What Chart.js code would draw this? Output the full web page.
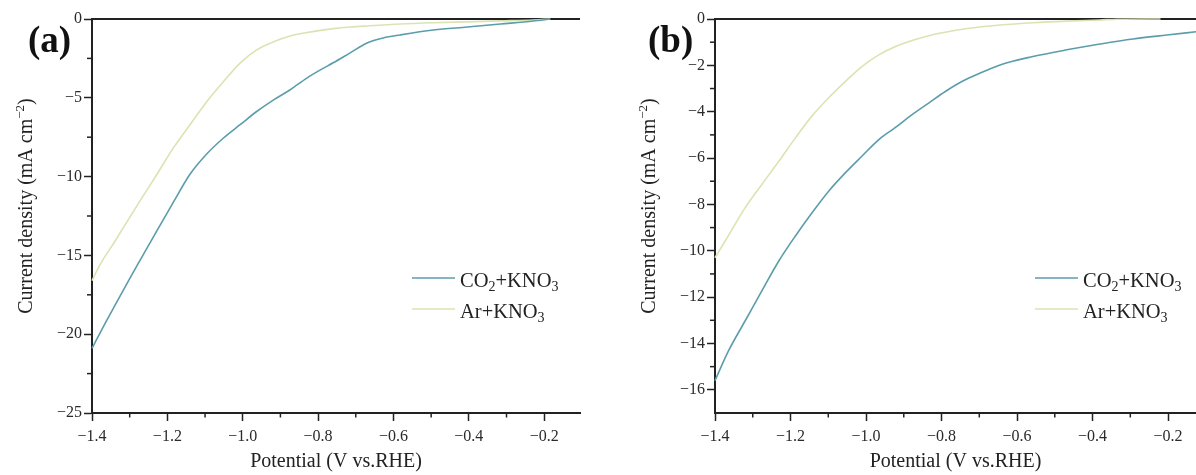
<!DOCTYPE html>
<html>
<head>
<meta charset="utf-8">
<script src="https://cdn.jsdelivr.net/npm/chart.js@4.4.1/dist/chart.umd.min.js"></script>
<style>
  html, body { margin: 0; padding: 0; background: #fff; }
  #wrap { position: relative; width: 1196px; height: 475px; overflow: hidden; background: #fff; }
  canvas { position: absolute; top: 0; }
  #chartA { left: 0; }
  #chartB { left: 600px; }
</style>
</head>
<body>
<div id="wrap">
  <canvas id="chartA" width="600" height="475"></canvas>
  <canvas id="chartB" width="596" height="475"></canvas>
</div>
<script>
// ---- series names and colours ----
const seriesLabels = ['CO2+KNO3', 'Ar+KNO3'];
const seriesColors = ['#5b9dab', '#dae4b3'];

// ---- panel (a): potential (V vs. RHE) and current density (mA cm-2) ----
const potA_CO2 = [-1.400, -1.367, -1.334, -1.304, -1.281, -1.259, -1.228, -1.184, -1.140, -1.095, -1.051, -1.007, -0.963, -0.918, -0.874, -0.830, -0.794, -0.760, -0.715, -0.670, -0.627, -0.582, -0.494, -0.404, -0.316, -0.229, -0.184];
const curA_CO2 = [-20.9, -19.4, -17.95, -16.65, -15.67, -14.75, -13.45, -11.62, -9.85, -8.55, -7.55, -6.71, -5.87, -5.13, -4.49, -3.75, -3.23, -2.78, -2.15, -1.52, -1.20, -1.01, -0.70, -0.51, -0.32, -0.13, 0.0];
const potA_Ar = [-1.400, -1.379, -1.339, -1.317, -1.273, -1.228, -1.184, -1.140, -1.095, -1.051, -1.007, -0.963, -0.918, -0.874, -0.830, -0.794, -0.760, -0.715, -0.670, -0.582, -0.494, -0.404, -0.316, -0.229, -0.184];
const curA_Ar = [-16.6, -15.6, -14.1, -13.25, -11.56, -9.87, -8.18, -6.71, -5.23, -3.97, -2.80, -1.96, -1.44, -1.08, -0.86, -0.72, -0.61, -0.51, -0.44, -0.32, -0.24, -0.18, -0.12, -0.06, 0.0];

// ---- panel (b) ----
const potB_CO2 = [-1.400, -1.364, -1.320, -1.276, -1.231, -1.187, -1.143, -1.099, -1.055, -1.011, -0.966, -0.922, -0.878, -0.834, -0.790, -0.746, -0.700, -0.645, -0.558, -0.468, -0.380, -0.293, -0.203, -0.126];
const curB_CO2 = [-15.6, -14.31, -13.02, -11.73, -10.44, -9.36, -8.36, -7.43, -6.64, -5.92, -5.20, -4.68, -4.13, -3.63, -3.13, -2.70, -2.35, -1.98, -1.62, -1.33, -1.08, -0.86, -0.69, -0.55];
const potB_Ar = [-1.400, -1.373, -1.320, -1.276, -1.231, -1.187, -1.143, -1.099, -1.055, -1.011, -0.966, -0.922, -0.878, -0.834, -0.790, -0.732, -0.645, -0.558, -0.468, -0.380, -0.335, -0.220];
const curB_Ar = [-10.3, -9.58, -8.14, -7.14, -6.14, -5.13, -4.18, -3.40, -2.70, -2.05, -1.55, -1.19, -0.93, -0.72, -0.57, -0.41, -0.26, -0.16, -0.09, -0.04, -0.01, 0.0];

// ---- axis ticks ----
const xTicks = [-1.4, -1.2, -1.0, -0.8, -0.6, -0.4, -0.2];
const xMinorTicks = [-1.3, -1.1, -0.9, -0.7, -0.5, -0.3];
const yTicksA = [0, -5, -10, -15, -20, -25];
const yMinorA = [-2.5, -7.5, -12.5, -17.5, -22.5];
const yTicksB = [0, -2, -4, -6, -8, -10, -12, -14, -16];
const yMinorB = [-1, -3, -5, -7, -9, -11, -13, -15];

const FONT = "'Liberation Serif', 'Times New Roman', serif";
const AXIS = '#222';
const MINUS = '\u2212';

function toPoints(xs, ys) { return xs.map((x, i) => ({ x: x, y: ys[i] })); }
function fmtX(v) { return (v < 0 ? MINUS : '') + Math.abs(v).toFixed(1); }
function fmtY(v) { return (v < 0 ? MINUS : '') + Math.abs(v); }

// split a chemical label into normal / subscript runs (digits after letters)
function chemParts(label) {
  const parts = [];
  for (const ch of label) {
    const mode = /[0-9]/.test(ch) ? 'sub' : 'n';
    const last = parts[parts.length - 1];
    if (last && last.mode === mode) last.t += ch; else parts.push({ t: ch, mode: mode });
  }
  return parts;
}

function drawRich(ctx, parts, x, y, size, align) {
  const small = Math.round(size * 0.66);
  const fontFor = m => (m === 'n' ? size : small) + 'px ' + FONT;
  let total = 0;
  parts.forEach(p => { ctx.font = fontFor(p.mode); total += ctx.measureText(p.t).width; });
  let cx = align === 'center' ? x - total / 2 : x;
  ctx.textAlign = 'left';
  ctx.textBaseline = 'alphabetic';
  parts.forEach(p => {
    ctx.font = fontFor(p.mode);
    let dy = 0;
    if (p.mode === 'sub') dy = size * 0.22;
    if (p.mode === 'sup') dy = -size * 0.4;
    ctx.fillText(p.t, cx, y + dy);
    cx += ctx.measureText(p.t).width;
  });
}

// panel label, rotated y title, top frame line, minor ticks and legend
const panelDecor = {
  id: 'panelDecor',
  beforeDatasetsDraw(chart, args, o) {
    const { ctx, chartArea: ca } = chart;
    ctx.save();
    ctx.strokeStyle = AXIS;
    ctx.lineWidth = 2;
    ctx.beginPath();
    ctx.moveTo(ca.left - 1, ca.top);
    ctx.lineTo(ca.right, ca.top);
    ctx.stroke();
    // minor ticks
    ctx.lineWidth = 1.5;
    const xs = chart.scales.x, ys = chart.scales.y;
    o.xMinor.forEach(v => {
      const px = xs.getPixelForValue(v);
      ctx.beginPath(); ctx.moveTo(px, ca.bottom); ctx.lineTo(px, ca.bottom + 4.5); ctx.stroke();
    });
    o.yMinor.forEach(v => {
      const py = ys.getPixelForValue(v);
      ctx.beginPath(); ctx.moveTo(ca.left, py); ctx.lineTo(ca.left - 5, py); ctx.stroke();
    });
    ctx.restore();
  },
  afterDraw(chart, args, o) {
    const { ctx } = chart;
    ctx.save();
    // panel label
    ctx.fillStyle = '#111';
    ctx.font = 'bold 37px ' + FONT;
    ctx.textAlign = 'left';
    ctx.textBaseline = 'alphabetic';
    ctx.fillText(o.label, o.labelX, o.labelY);
    // y title
    ctx.fillStyle = '#222';
    ctx.translate(o.titleX, o.titleY);
    ctx.rotate(-Math.PI / 2);
    drawRich(ctx, [{ t: 'Current density (mA cm', mode: 'n' }, { t: MINUS + '2', mode: 'sup' }, { t: ')', mode: 'n' }], 0, 0, 20, 'center');
    ctx.setTransform(1, 0, 0, 1, 0, 0);
    // legend
    chart.data.datasets.forEach((ds, i) => {
      const y = o.legendY + i * 31;
      ctx.strokeStyle = ds.borderColor;
      ctx.lineWidth = 1.6;
      ctx.beginPath();
      ctx.moveTo(o.legendX, y);
      ctx.lineTo(o.legendX + 43, y);
      ctx.stroke();
      ctx.fillStyle = '#222';
      drawRich(ctx, chemParts(ds.label), o.legendX + 48, y + 8.5, 20.5, 'left');
    });
    ctx.restore();
  }
};

function makeChart(canvasId, cfg) {
  return new Chart(document.getElementById(canvasId), {
    type: 'line',
    data: {
      datasets: cfg.series.map((s, i) => ({
        label: seriesLabels[i],
        data: toPoints(s[0], s[1]),
        borderColor: seriesColors[i],
        borderWidth: 1.6,
        pointRadius: 0,
        cubicInterpolationMode: 'monotone',
        clip: 3
      }))
    },
    options: {
      responsive: false,
      animation: false,
      devicePixelRatio: 1,
      layout: { padding: { top: 19, right: cfg.padRight, left: 0, bottom: 0 } },
      plugins: {
        legend: { display: false },
        tooltip: { enabled: false },
        panelDecor: cfg.decor
      },
      scales: {
        x: {
          type: 'linear',
          min: -1.4,
          max: cfg.xMax,
          afterBuildTicks: s => { s.ticks = xTicks.map(v => ({ value: v })); },
          afterFit: s => { s.height = 62; },
          ticks: {
            callback: v => fmtX(v),
            font: { family: FONT, size: 16 },
            color: '#2a2a2a',
            padding: 6,
            maxRotation: 0,
            autoSkip: false
          },
          grid: { drawOnChartArea: false, drawTicks: true, tickLength: 8, tickWidth: 1.5, tickColor: AXIS },
          border: { display: true, color: AXIS, width: 2 },
          title: {
            display: true,
            text: 'Potential (V vs.RHE)',
            font: { family: FONT, size: 20 },
            color: '#222',
            padding: { top: 0, bottom: 1 }
          }
        },
        y: {
          min: cfg.yMin,
          max: 0,
          afterBuildTicks: s => { s.ticks = cfg.yTicks.map(v => ({ value: v })); },
          afterFit: s => { s.width = cfg.yWidth; },
          ticks: {
            callback: v => fmtY(v),
            font: { family: FONT, size: 16 },
            color: '#2a2a2a',
            padding: 2
          },
          grid: { drawOnChartArea: false, drawTicks: true, tickLength: 8, tickWidth: 1.5, tickColor: AXIS },
          border: { display: true, color: AXIS, width: 2 }
        }
      }
    },
    plugins: [panelDecor]
  });
}

makeChart('chartA', {
  series: [[potA_CO2, curA_CO2], [potA_Ar, curA_Ar]],
  xMax: -0.105,
  yMin: -25,
  yTicks: yTicksA,
  yWidth: 92,
  padRight: 20,
  decor: { label: '(a)', labelX: 28, labelY: 52, titleX: 32, titleY: 206, legendX: 412, legendY: 278, xMinor: xMinorTicks, yMinor: yMinorA }
});

makeChart('chartB', {
  series: [[potB_CO2, curB_CO2], [potB_Ar, curB_Ar]],
  xMax: -0.126,
  yMin: -17,
  yTicks: yTicksB,
  yWidth: 115,
  padRight: 0,
  decor: { label: '(b)', labelX: 48, labelY: 52, titleX: 55, titleY: 206, legendX: 435, legendY: 278, xMinor: xMinorTicks, yMinor: yMinorB }
});
</script>
</body>
</html>
